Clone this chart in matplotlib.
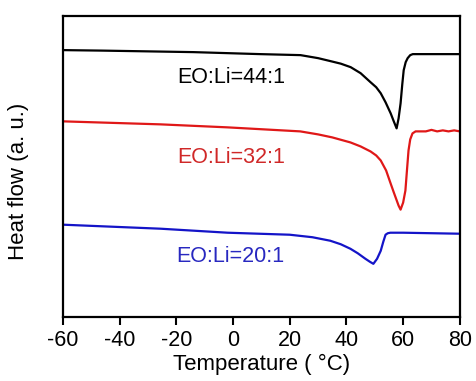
import matplotlib.pyplot as plt

plt.rcParams["font.family"] = ["Liberation Sans", "DejaVu Sans"]
plt.rcParams["axes.unicode_minus"] = False

black = "#000000"
red = "#E01818"
blue = "#1414C8"

# EO:Li=44:1
t_44 = [-60, -46, -14, 9.6, 23.8, 30, 34.4, 38, 41.5, 45, 48.5, 50.5, 52.1,
        53.8, 55.6, 56.7, 57.7, 58.4, 59.1, 59.7, 60.2, 60.9, 61.6, 62.5,
        63.4, 66, 80]
hf_44 = [266, 265.5, 264, 262, 261, 258, 255, 252.5, 249, 243, 234, 229, 223,
         214, 203, 195, 188, 198, 213, 232, 246, 254, 258, 261,
         262, 262, 262]

# EO:Li=32:1
t_32 = [-60, -25.6, -1.9, 23.7, 30, 35, 41.4, 45, 48.5, 50.5, 52.1, 54,
        55.6, 56.6, 57.5, 58.4, 59.1, 60, 60.8, 61.4, 61.9, 62.5, 63.3,
        64.4, 68, 70, 72, 74, 76, 78, 80]
hf_32 = [195, 192, 189, 185, 182, 179, 174, 170, 165, 161, 156, 146,
         133, 125, 118, 111, 107, 114, 126, 148, 166, 177, 183,
         185, 185, 186.5, 185, 186, 185, 186, 185]

# EO:Li=20:1
t_20 = [-60, -25.6, -1.9, 20, 28, 34.3, 38, 41.4, 44, 46.7, 48.3, 49.5,
        50.8, 52.1, 53, 53.8, 54.6, 55.5, 60, 80]
hf_20 = [92, 88, 84, 82, 79.5, 76, 72.5, 68, 63.5, 58, 55, 53,
         58, 66, 75, 82, 83.5, 84, 84, 83]

labels = ["EO:Li=44:1", "EO:Li=32:1", "EO:Li=20:1"]
label_y = [239, 159, 60]

fig = plt.figure(figsize=(4.77, 3.81), dpi=100)
ax = fig.add_axes([0.132, 0.168, 0.832, 0.79])

ax.plot(t_44, hf_44, color=black, lw=1.6)
ax.plot(t_32, hf_32, color=red, lw=1.6)
ax.plot(t_20, hf_20, color=blue, lw=1.6)

for text, y, c in zip(labels, label_y, [black, "#D02828", "#2828C0"]):
    ax.text(-0.8, y, text, color=c, fontsize=15.5, ha="center", va="center")

ax.set_xlim(-60, 80)
ax.set_ylim(0, 300)
ax.set_xticks(range(-60, 81, 20))
ax.set_yticks([])
ax.tick_params(axis="x", direction="out", length=6, width=1.5, labelsize=15.5)
for s in ax.spines.values():
    s.set_linewidth(1.6)

ax.set_xlabel("Temperature ( °C)", fontsize=16, labelpad=2)
ax.set_ylabel("Heat flow (a. u.)", fontsize=16, labelpad=16)
ax.yaxis.set_label_coords(-0.085, 0.45)

plt.savefig("out.png", dpi=100)
